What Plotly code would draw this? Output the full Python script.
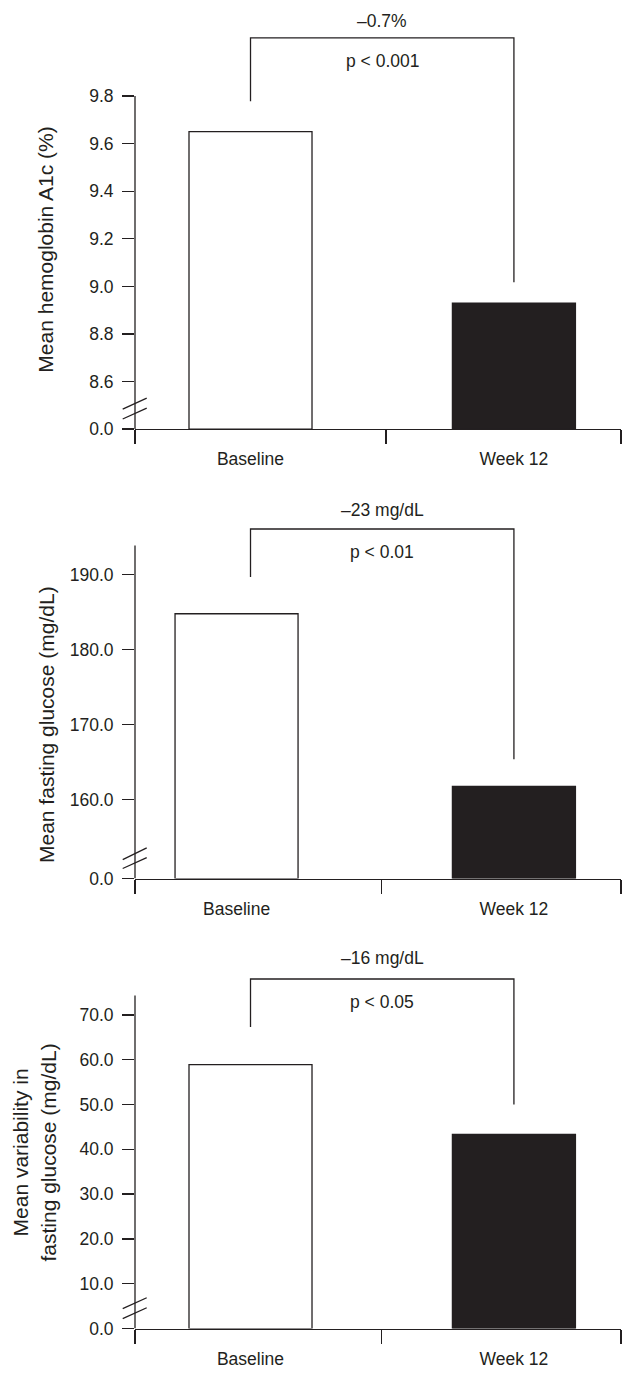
import plotly.graph_objects as go

# ---------------- data ----------------
categories = ["Baseline", "Week 12"]
hba1c = [9.65, 8.93]
fasting_glucose = [184.8, 161.8]
glucose_variability = [58.9, 43.3]

change_labels = ["\u20130.7%", "\u201323 mg/dL", "\u201316 mg/dL"]
p_labels = ["p < 0.001", "p < 0.01", "p < 0.05"]
y_titles = ["Mean hemoglobin A1c (%)",
            "Mean fasting glucose (mg/dL)",
            "Mean variability in<br>fasting glucose (mg/dL)"]

hba1c_ticks = [8.4, 8.6, 8.8, 9.0, 9.2, 9.4, 9.6, 9.8]
hba1c_ticktext = ["0.0", "8.6", "8.8", "9.0", "9.2", "9.4", "9.6", "9.8"]
fpg_ticks = [149.5, 160, 170, 180, 190]
fpg_ticktext = ["0.0", "160.0", "170.0", "180.0", "190.0"]
var_ticks = [0, 10, 20, 30, 40, 50, 60, 70]
var_ticktext = ["0.0", "10.0", "20.0", "30.0", "40.0", "50.0", "60.0", "70.0"]

# ---------------- layout settings ----------------
W, H = 623, 1374
INK = "#231f20"
FONT = "Liberation Sans, Arial, Helvetica, sans-serif"

panels = [
    dict(values=hba1c, ticks=hba1c_ticks, ticktext=hba1c_ticktext,
         base=8.4, top=10.1, axis_top=9.8, px_bottom=432.3, px_top=24.8,
         bracket=(9.778, 10.044, 9.017), change_shift=17.3, txt_p=9.945,
         breaks=((8.4845, 8.5304), (8.4428, 8.4887)),
         bar_shift=0.0, mid_tick=0.514, title_px=251.7, title_x=45.8),
    dict(values=fasting_glucose, ticks=fpg_ticks, ticktext=fpg_ticktext,
         base=149.5, top=198.0, axis_top=193.9, px_bottom=885.0, px_top=518.5,
         bracket=(189.7, 196.1, 165.4), change_shift=19.4, txt_p=193.05,
         breaks=((152.03, 153.58), (150.84, 152.29)),
         bar_shift=-0.053, mid_tick=0.498, title_px=729.5, title_x=45.8),
    dict(values=glucose_variability, ticks=var_ticks, ticktext=var_ticktext,
         base=0.0, top=79.5, axis_top=74.3, px_bottom=1338.3, px_top=979.4,
         bracket=(67.3, 78.0, 50.0), change_shift=20.6, txt_p=72.9,
         breaks=((4.43, 6.87), (2.22, 4.65)),
         bar_shift=0.0, mid_tick=0.498, title_px=1161.0, title_x=34.0),
]

X_RANGE = [-0.4385, 1.4065]
BAR_W = 0.467
x_dom = [135 / W, 621 / W]

fig = go.Figure()
shapes = []
annotations = []
xpos = list(range(len(categories)))

for i, p in enumerate(panels):
    n = "" if i == 0 else str(i + 1)
    xa, ya = "x" + n, "y" + n
    base = p["base"]
    offsets = [-BAR_W / 2 + p["bar_shift"], -BAR_W / 2]
    fig.add_trace(go.Bar(
        x=xpos, y=[v - base for v in p["values"]], base=base,
        width=BAR_W, offset=offsets,
        marker=dict(color=["white", INK], line=dict(color=INK, width=1.3)),
        xaxis=xa, yaxis=ya, showlegend=False, hoverinfo="skip"))

    ydom = [1 - p["px_bottom"] / H, 1 - p["px_top"] / H]
    fig.layout["xaxis" + n] = dict(
        domain=x_dom, range=X_RANGE, anchor=ya, showgrid=False, zeroline=False,
        showline=True, linecolor=INK, linewidth=1.3,
        tickmode="array", tickvals=[xpos[0] + p["bar_shift"], xpos[1]],
        ticktext=categories, ticks="outside", ticklen=14,
        tickcolor="rgba(0,0,0,0)",
        tickfont=dict(family=FONT, size=17.5, color=INK),
        minor=dict(tickmode="array", tickvals=[-0.4382, p["mid_tick"], 1.4062],
                   ticks="outside", ticklen=14, tickwidth=1.3, tickcolor=INK,
                   showgrid=False),
        fixedrange=True)
    fig.layout["yaxis" + n] = dict(
        domain=ydom, range=[base, p["top"]], anchor=xa, showgrid=False,
        zeroline=False, showline=False,
        tickmode="array", tickvals=p["ticks"], ticktext=p["ticktext"],
        ticks="outside", ticklen=12, tickwidth=1.3, tickcolor=INK,
        ticklabelstandoff=5,
        tickfont=dict(family=FONT, size=17.5, color=INK), fixedrange=True)

    # y axis line (stops at the top of the scale)
    shapes.append(dict(type="line", xref=xa + " domain", yref=ya,
                       x0=0, x1=0, y0=base, y1=p["axis_top"],
                       line=dict(color=INK, width=1.3)))
    # axis break marks
    for (y0, y1) in p["breaks"]:
        shapes.append(dict(type="line", xref=xa + " domain", yref=ya,
                           x0=-0.0253, x1=0.0241, y0=y0, y1=y1,
                           line=dict(color=INK, width=1.3)))
    # significance bracket
    lb, tp, rb = p["bracket"]
    shapes.append(dict(type="path", xref=xa, yref=ya,
                       path=f"M {xpos[0]},{lb} L {xpos[0]},{tp} L {xpos[1]},{tp} L {xpos[1]},{rb}",
                       line=dict(color=INK, width=1.3)))
    annotations.append(dict(xref=xa, yref=ya, x=0.5, y=tp, yshift=p["change_shift"],
                            text=change_labels[i], showarrow=False,
                            yanchor="middle",
                            font=dict(family=FONT, size=17.5, color=INK)))
    annotations.append(dict(xref=xa, yref=ya, x=0.5, y=p["txt_p"],
                            text=p_labels[i], showarrow=False,
                            font=dict(family=FONT, size=17.5, color=INK)))
    annotations.append(dict(xref="paper", yref="paper",
                            x=p["title_x"] / W, y=1 - p["title_px"] / H,
                            text=y_titles[i], textangle=-90, showarrow=False,
                            xanchor="center", yanchor="middle",
                            font=dict(family=FONT, size=21, color=INK)))

fig.update_layout(
    width=W, height=H, margin=dict(l=0, r=0, t=0, b=0),
    paper_bgcolor="white", plot_bgcolor="white",
    shapes=shapes, annotations=annotations, bargap=0,
    font=dict(family=FONT, color=INK))

fig.write_html("out.html",
               config={"displayModeBar": False, "staticPlot": True},
               post_script="document.body.style.margin='0';document.body.style.overflow='hidden';")
